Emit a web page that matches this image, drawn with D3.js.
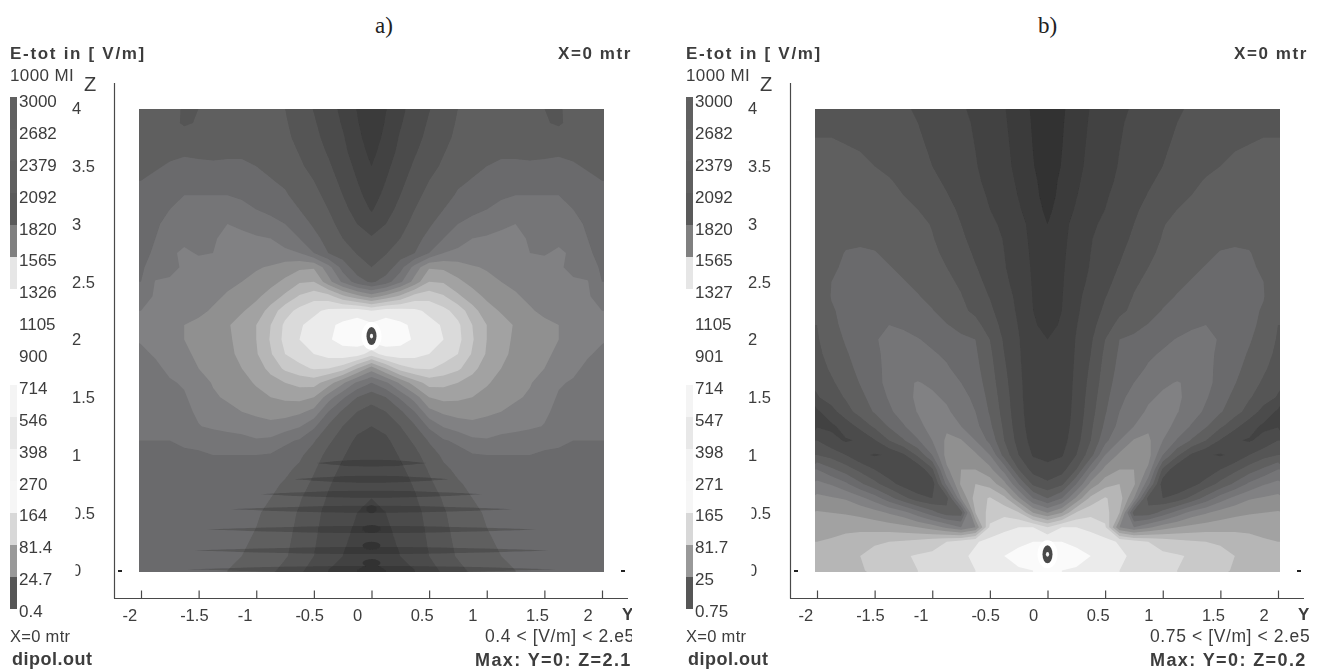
<!DOCTYPE html>
<html>
<head>
<meta charset="utf-8">
<script src="https://cdn.jsdelivr.net/npm/d3@7"></script>
<style>
  html, body { margin: 0; background: #fff; }
  text { font-family: "Liberation Sans", Arial, sans-serif; fill: #3c3c3c; }
</style>
</head>
<body>
<svg id="chart" width="1324" height="670"></svg>
<script>
// band index, half field Y = 0..2 step .125, rows Z = 4..0 step .125
const gridA = [
  [1.1,1.95,2.75,3.4,3.95,4.45,5,5.3,5.5,5.5,5.4,5.3,5,4.9,5.3,5.6,5.8],
  [1.2,2.1,2.9,3.55,4.1,4.6,5.1,5.35,5.55,5.6,5.5,5.4,5.1,4.85,5.35,5.7,5.9],
  [1.4,2.3,3.1,3.7,4.25,4.75,5.2,5.45,5.6,5.7,5.65,5.6,5.5,5.5,5.6,5.75,5.9],
  [1.7,2.5,3.25,3.9,4.45,4.95,5.35,5.55,5.8,5.95,5.9,5.85,5.9,5.95,5.9,5.85,5.9],
  [2,2.75,3.5,4.15,4.7,5.15,5.5,5.8,6,6.05,6.1,6.1,6.1,6.1,6.05,5.95,5.9],
  [2.2,3,3.75,4.4,5,5.4,5.85,6.05,6.2,6.3,6.3,6.3,6.3,6.3,6.25,6.1,6],
  [2.5,3.3,4,4.7,5.3,5.7,6.1,6.4,6.7,6.9,7,7,7,7,6.9,6.5,6.2],
  [2.9,3.6,4.3,5,5.55,6,6.3,6.7,7,7.2,7.4,7.2,7.2,7.2,7,6.7,6.3],
  [3.5,4,4.65,5.3,5.85,6.5,7,7.4,7.6,7.85,8,7.6,7.35,7.4,7.2,6.9,6.4],
  [4.1,4.5,5,5.65,6.3,7,7.6,8,8.1,8.2,8.25,7.9,7.8,7.85,7.5,7,6.5],
  [4.6,4.95,5.45,6,7,8,8.2,8.35,8.4,8.45,8.4,8,7.95,8.1,7.9,7.2,6.6],
  [5,5.4,6.6,8.4,9.9,9.8,9.5,9.1,8.9,8.7,8.6,8.4,8.2,8.05,7.9,7.6,6.8],
  [5.8,6.5,7.8,9.4,11,10.9,10.2,9.7,9.3,9,8.8,8.6,8.3,8,8.05,8.05,7],
  [9.5,10.3,11.2,12.4,12.6,12.1,11.2,10.4,9.8,9.4,9.1,8.8,8.5,8.2,8.2,8.1,7.6],
  [14,14.5,14.4,14.2,13.8,13.3,12.6,11.4,10.4,9.9,9.5,9.1,8.8,8.6,8.4,8.2,8],
  [15.2,15.5,15.2,14.8,14.3,13.9,13.2,12,11,10.4,9.9,9.5,9.2,9,8.8,8.4,8.1],
  [15.5,15.5,15.3,14.9,14.4,14,13.3,12.1,11,10.4,9.8,9.5,9.2,9,8.8,8.4,8.1],
  [13.5,14.5,14.6,14.4,14,13.5,13,11.9,10.9,10.2,9.8,9.4,9.1,8.9,8.5,8.1,7.8],
  [9.5,11,12.5,13,13.1,12.7,12.2,11.3,10.5,10,9.5,9.2,9,8.6,8.2,7.8,7.5],
  [7,7.8,9.2,10.5,11.4,11.3,11,10.6,10.1,9.7,9.3,9.05,8.7,8.1,7.9,7.8,7.4],
  [5.4,6,7.2,8.5,10,10.3,10.2,10,9.7,9.4,9.1,8.9,8.4,7.9,7.6,7.4,7.2],
  [4.6,5,5.8,7,8.7,9.2,9.4,9.4,9.2,9,8.8,8.5,8.2,7.7,7.4,7.2,7.1],
  [4,4.3,5,5.9,7.2,8.1,8.5,8.7,8.6,8.5,8.4,8.2,7.95,7.5,7.2,7.1,7],
  [3.6,3.8,4.5,5.2,6.1,6.9,7.2,7.8,7.9,7.6,7.4,7.3,7.2,7.1,7,7,7],
  [3.4,3.5,4.1,4.7,5.5,6.2,6.6,6.9,7,7,7,7,6.9,6.9,6.9,6.9,6.9],
  [3.2,3.3,3.8,4.4,5.1,5.8,6.2,6.5,6.7,6.8,6.8,6.8,6.8,6.8,6.8,6.8,6.8],
  [3,3.2,3.6,4.1,4.8,5.4,5.9,6.2,6.4,6.5,6.6,6.7,6.7,6.7,6.7,6.7,6.7],
  [3,3.1,3.4,3.9,4.5,5.1,5.6,6,6.2,6.4,6.5,6.5,6.6,6.6,6.6,6.6,6.6],
  [2.8,3,3.3,3.7,4.3,4.9,5.4,5.8,6.1,6.3,6.4,6.5,6.5,6.5,6.5,6.5,6.5],
  [2.6,2.9,3.2,3.6,4.2,4.8,5.3,5.7,6,6.2,6.3,6.4,6.4,6.4,6.4,6.4,6.4],
  [2.4,2.8,3.1,3.5,4.1,4.7,5.2,5.6,5.9,6.1,6.2,6.3,6.3,6.3,6.4,6.4,6.4],
  [2.3,2.7,3,3.4,4,4.6,5.1,5.5,5.8,6,6.1,6.2,6.2,6.3,6.3,6.3,6.3],
  [1.5,2,2.4,3,3.6,4.2,4.7,5.2,5.5,5.8,6,6.1,6.2,6.2,6.2,6.2,6.2]
];

const gridB = [
  [0.3,0.85,1.5,2.05,2.5,2.8,3.1,3.3,3.6,3.9,4.1,4.3,4.4,4.55,4.7,4.8,4.9],
  [0.35,0.9,1.6,2.1,2.55,2.9,3.2,3.4,3.7,4,4.2,4.4,4.5,4.65,4.8,4.9,4.95],
  [0.4,0.95,1.65,2.15,2.6,2.95,3.25,3.5,3.8,4.1,4.3,4.5,4.65,4.8,4.9,5,5],
  [0.45,1,1.7,2.2,2.65,3,3.3,3.6,3.9,4.2,4.45,4.65,4.85,5,5.1,5.15,5.15],
  [0.5,1.05,1.75,2.25,2.7,3.05,3.4,3.7,4,4.3,4.55,4.85,5,5.15,5.25,5.3,5.25],
  [0.55,1.2,1.85,2.35,2.75,3.15,3.5,3.85,4.2,4.55,4.85,5.05,5.2,5.3,5.35,5.4,5.3],
  [0.6,1.3,1.95,2.5,2.9,3.25,3.65,4.05,4.5,4.8,5,5.2,5.35,5.45,5.45,5.45,5.35],
  [0.75,1.5,2.1,2.65,3,3.4,3.85,4.25,4.75,5,5.2,5.35,5.5,5.55,5.6,5.5,5.35],
  [1,1.7,2.3,2.85,3.15,3.55,4,4.45,4.95,5.2,5.4,5.5,5.6,5.7,5.7,5.55,5.3],
  [1.1,1.75,2.4,2.95,3.3,3.7,4.15,4.65,5.05,5.3,5.5,5.6,5.75,5.85,5.8,5.55,5.25],
  [1.2,1.8,2.5,3,3.45,3.85,4.4,4.85,5.15,5.4,5.6,5.8,6.05,6.1,6.05,5.7,5.3],
  [1.3,1.85,2.6,3.05,3.6,4.05,4.6,5,5.3,5.55,5.8,6.05,6.2,6.25,6.15,5.85,5.3],
  [1.4,1.9,2.7,3.15,3.75,4.25,4.85,5.2,5.5,5.8,6.05,6.25,6.4,6.4,6.25,6,5.25],
  [1.5,1.95,2.8,3.3,3.95,4.5,5.05,5.4,5.75,6.05,6.3,6.45,6.55,6.5,6.3,6.05,5.2],
  [1.6,2,2.85,3.45,4.2,4.8,5.2,5.6,6.05,6.3,6.5,6.65,6.65,6.5,6.25,5.9,5.1],
  [1.75,2.1,2.95,3.65,4.55,5.3,5.7,6.05,6.4,6.65,6.9,7,6.9,6.6,6.25,5.75,5],
  [2,2.3,3.05,3.85,5,6,6.2,6.5,6.8,7.05,7.2,7.15,6.95,6.55,6.1,5.55,4.9],
  [2.1,2.3,3.1,4,5.2,6.15,6.45,6.85,7.1,7.3,7.35,7.2,6.85,6.4,5.9,5.4,4.75],
  [2.15,2.35,3.15,4.15,5.35,6.3,6.7,7.1,7.4,7.6,7.6,7.25,6.75,6.25,5.7,5.15,4.55],
  [2.2,2.4,3.2,4.3,5.5,6.5,7,7.45,7.85,8.05,7.85,7.3,6.65,6.05,5.45,4.85,4.25],
  [2.25,2.4,3.25,4.45,5.7,6.75,7.35,7.85,8.15,8.15,7.7,7.1,6.4,5.75,5.1,4.5,3.9],
  [2.3,2.45,3.3,4.6,5.9,7,7.6,8.15,8.3,8.05,7.5,6.8,6.1,5.4,4.6,3.6,2.8],
  [2.35,2.5,3.4,4.8,6.2,7.3,8,8.8,8.4,7.7,6.9,6.1,5.2,4.3,3.4,2.8,2.9],
  [2.4,2.6,3.6,5,6.7,8,9.1,9.2,8,6.9,5.9,5,3.9,3.1,2.9,3.3,4],
  [2.7,2.9,4,5.6,8,9.2,9.6,9.4,7,5.2,3.8,3.1,2.9,3.2,4,4.6,5],
  [3.3,3.6,5,7.6,9.3,10,10,8.8,4.8,3.2,3,3.3,4,4.7,5.5,6.2,7],
  [4.2,4.8,7,9.3,10.6,11,10.2,7.3,3.4,3.1,3.6,4.4,5.3,6.2,7.2,7.9,8.3],
  [6,7,9.2,11.3,12.1,11.5,9,4.6,4,4.4,5.3,6.4,7.5,8.3,8.9,9.1,9.3],
  [9,10,12.1,12.7,12.4,11,5.5,5.4,6.4,7.4,8.4,8.9,9.4,9.7,9.9,10,10.1],
  [13,14,14,13.7,13.2,9,8,8.8,9.5,10,10.3,10.5,10.6,10.7,10.7,10.7,10.8],
  [15,15,14.8,14.6,14.3,13.9,13.4,13,12.6,12.3,12.1,12,11.8,11.6,11.4,11.1,11],
  [15.5,15.5,15.3,15,14.7,14.2,13.8,13.5,13.2,13.1,12.9,12.7,12.5,12,11.5,11.2,11],
  [15,15,14.9,14.7,14.4,14,13.6,13.3,13.1,13,12.8,12.6,12.4,11.8,11.3,11.1,11]
];

// dark streaks at the bottom of panel a: height and reach along Y
const fringeZ = [0.93, 0.79, 0.66, 0.53, 0.355, 0.173, 0.01];
const fringeReach = [0.48, 0.67, 0.96, 1.22, 1.43, 1.54, 1.6];
const spotZ = [0.53, 0.36, 0.215, 0.065];

const bandColors = ["#303030", "#3a3a3a", "#434343", "#4c4c4c", "#555555", "#5f5f5f", "#6a6a6c", "#757577",
  "#818183", "#909090", "#a2a2a2", "#b6b6b6", "#c9c9c9", "#dadada", "#ebebeb", "#fafafa"];

const legendA = ["3000", "2682", "2379", "2092", "1820", "1565", "1326", "1105", "900", "714", "546", "398", "270", "164", "81.4", "24.7", "0.4"];
const legendB = ["3000", "2682", "2379", "2092", "1820", "1565", "1327", "1105", "901", "714", "547", "398", "271", "165", "81.7", "25", "0.75"];
const legendColors = ["#606060", "#626262", "#5e5e5e", "#5a5a5a", "#808080", "#e6e6e6", "#ffffff", "#ffffff",
  "#ffffff", "#f4f4f4", "#e8e8e8", "#f4f4f4", "#f6f6f6", "#d8d8d8", "#999999", "#565656"];

const yTicks = [-2, -1.5, -1, -0.5, 0, 0.5, 1, 1.5, 2];
const zTicks = [0, 0.5, 1, 1.5, 2, 2.5, 3, 3.5, 4];

const panels = [
  { id: "a", dx: 0, title: "a)", titleX: 375, grid: gridA, legend: legendA, dipole: [0, 2.03],
    range: "0.4 < [V/m] < 2.e5", rangeX: 485, max: "Max: Y=0: Z=2.1", maxX: 475, fringes: true },
  { id: "b", dx: 676, title: "b)", titleX: 362, grid: gridB, legend: legendB, dipole: [0, 0.14],
    range: "0.75 < [V/m] < 2.e5", rangeX: 474, max: "Max: Y=0: Z=0.2", maxX: 474, fringes: false }
];

const svg = d3.select("#chart");

const yScale = d3.scaleLinear().domain([-2, 2]).range([141, 602]);
const zScale = d3.scaleLinear().domain([0, 4]).range([570.5, 108.5]);

const defs = svg.append("defs");
defs.append("filter").attr("id", "soft")
  .attr("x", "-5%").attr("y", "-5%").attr("width", "110%").attr("height", "110%")
  .append("feGaussianBlur").attr("stdDeviation", 0.55);

function addClip(id, x, y, w, h) {
  defs.append("clipPath").attr("id", id).append("rect")
    .attr("x", x).attr("y", y).attr("width", w).attr("height", h);
}
addClip("plotClip", 139, 109, 465, 463);
addClip("zeroClip", 75.5, -50, 60, 100);
addClip("rightClip", 0, 0, 632, 670);

function mirrorGrid(grid) {
  const values = [];
  grid.forEach(row => {
    const left = row.slice(1).reverse();
    left.concat(row).forEach(v => values.push(v));
  });
  return values;
}

const gridToPlot = d3.geoTransform({
  point(x, y) {
    this.stream.point(yScale(-2 + (x - 0.5) * 0.125), zScale(4 - (y - 0.5) * 0.125));
  }
});
const contourPath = d3.geoPath(gridToPlot);

function renderField(g, panel) {
  const contours = d3.contours()
    .size([33, 33])
    .smooth(true)
    .thresholds(d3.range(0, 16))(mirrorGrid(panel.grid));

  const field = g.append("g").attr("clip-path", "url(#plotClip)");
  field.append("rect")
    .attr("x", 139).attr("y", 109).attr("width", 465).attr("height", 463)
    .attr("fill", bandColors[0]);
  field.selectAll("path.band")
    .data(contours)
    .join("path")
    .attr("class", "band")
    .attr("d", contourPath)
    .attr("fill", (d, i) => bandColors[i]);

  if (panel.fringes) {
    const streak = d3.area().curve(d3.curveBasis);
    field.selectAll("path.fringe")
      .data(fringeZ)
      .join("path")
      .attr("class", "fringe")
      .attr("fill", "#000")
      .attr("opacity", 0.17)
      .attr("d", (z, i) => {
        const reach = fringeReach[i];
        const xs = d3.range(-1, 1.01, 0.25);
        return streak
          .x(t => yScale(t * reach))
          .y0(t => zScale(z) - 3.5 * (1 - t * t))
          .y1(t => zScale(z) + 3.5 * (1 - t * t))(xs);
      });
    field.selectAll("ellipse.spot")
      .data(spotZ)
      .join("ellipse")
      .attr("class", "spot")
      .attr("cx", yScale(0))
      .attr("cy", d => zScale(d))
      .attr("rx", (d, i) => i === 0 ? 5 : 9)
      .attr("ry", 4)
      .attr("fill", "#333");
  }

  // feed point: white halo, dark ring, white centre
  const dot = field.append("g")
    .attr("transform", `translate(${yScale(panel.dipole[0])},${zScale(panel.dipole[1])})`);
  dot.append("ellipse").attr("rx", 10).attr("ry", 14).attr("fill", "#fff");
  dot.append("ellipse").attr("rx", 5).attr("ry", 9).attr("fill", "#4a4a4a");
  dot.append("ellipse").attr("rx", 1.6).attr("ry", 2.4).attr("fill", "#f4f4f4");
}

function renderAxes(g) {
  const line = (x1, y1, x2, y2) => g.append("line")
    .attr("x1", x1).attr("y1", y1).attr("x2", x2).attr("y2", y2)
    .attr("stroke", "#4a4a4a").attr("stroke-width", 1.2);
  line(114.5, 83, 114.5, 598.5);
  line(114, 598.5, 628, 598.5);
  line(118, 571, 122, 571).attr("stroke-width", 2).attr("stroke", "#222");
  line(621, 571, 625, 571).attr("stroke-width", 2).attr("stroke", "#222");

  const xAxis = g.append("g")
    .attr("transform", "translate(0,598.5)")
    .call(d3.axisBottom(yScale).tickValues(yTicks).tickFormat(d => d).tickSizeInner(-8).tickSizeOuter(0));
  xAxis.select(".domain").remove();
  xAxis.selectAll("line").attr("stroke", "#4a4a4a").attr("stroke-width", 1.2);
  xAxis.selectAll("text")
    .attr("text-anchor", "start")
    .attr("x", -19)
    .attr("y", 22)
    .attr("dy", 0)
    .style("font-size", "16.5px");

  const zAxis = g.append("g")
    .call(d3.axisLeft(zScale).tickValues(zTicks).tickFormat(d => d).tickSize(0));
  zAxis.select(".domain").remove();
  zAxis.selectAll("text")
    .attr("text-anchor", "start")
    .attr("x", 72)
    .style("font-size", "16.5px")
    .attr("clip-path", d => (d === 0 || d === 0.5) ? "url(#zeroClip)" : null);
}

function renderLegend(g, panel) {
  const labelY = d3.scalePoint().domain(panel.legend).range([107, 617]);
  g.selectAll("text.level")
    .data(panel.legend)
    .join("text")
    .attr("class", "level")
    .attr("x", 19)
    .attr("y", d => labelY(d))
    .style("font-size", "17px")
    .text(d => d);

  const barY = d3.scaleBand().domain(d3.range(legendColors.length)).range([97, 609]);
  g.selectAll("rect.swatch")
    .data(legendColors)
    .join("rect")
    .attr("class", "swatch")
    .attr("x", 10)
    .attr("width", 7)
    .attr("y", (d, i) => barY(i))
    .attr("height", barY.bandwidth())
    .attr("fill", d => d);
}

function label(g, text, x, y, size, bold, spacing) {
  return g.append("text")
    .attr("x", x).attr("y", y)
    .style("font-size", size + "px")
    .style("font-weight", bold ? "bold" : "normal")
    .style("letter-spacing", (spacing || 0) + "px")
    .text(text);
}

panels.forEach(panel => {
  const g = svg.append("g")
    .attr("transform", `translate(${panel.dx},0)`)
    .attr("filter", "url(#soft)");

  renderField(g, panel);
  renderAxes(g);
  renderLegend(g, panel);

  label(g, "E-tot in [ V/m]", 10, 59, 17, true, 1.7);
  label(g, "1000 MI", 10, 81, 17, false, 0.4);
  label(g, "Z", 84, 91, 20, false);
  label(g, "X=0 mtr", 558, 59, 17, true, 1.6);
  label(g, "X=0 mtr", 10, 642, 16.5, false, 0.3);
  label(g, "dipol.out", 12, 665, 18, true, 0.5);

  const clipped = g.append("g").attr("clip-path", panel.id === "a" ? "url(#rightClip)" : null);
  label(clipped, "Y", 622, 620, 17, true);
  label(clipped, panel.range, panel.rangeX, 642, 17.5, false, 0.6);
  label(clipped, panel.max, panel.maxX, 666, 18, true, 1.4);

  svg.append("text")
    .attr("x", panel.titleX + panel.dx)
    .attr("y", 33)
    .style("font-family", "'Liberation Serif', serif")
    .style("font-size", "23px")
    .style("fill", "#222")
    .text(panel.title);
});
</script>
</body>
</html>
